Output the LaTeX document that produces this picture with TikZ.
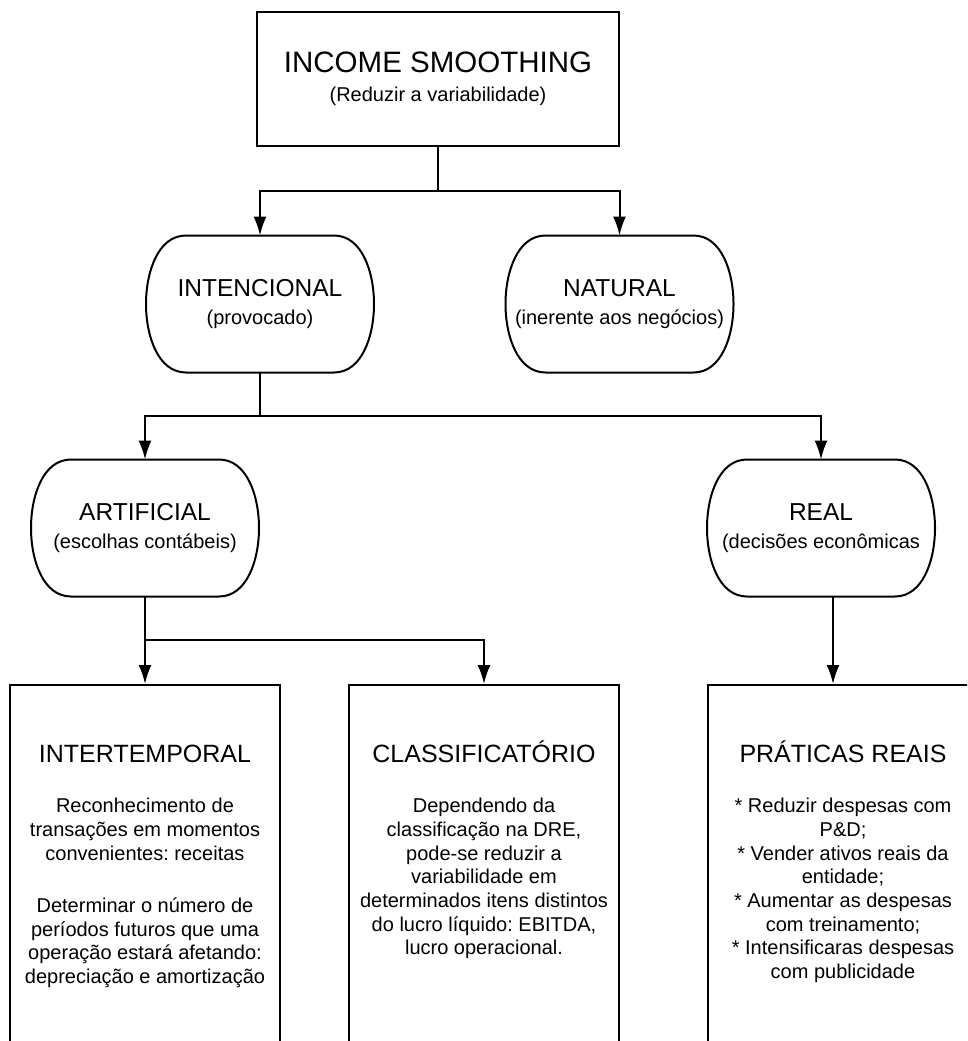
\documentclass[tikz,border=0pt]{standalone}
\usepackage{fontspec}
\setmainfont{Liberation Sans}
\usetikzlibrary{arrows.meta}
\frenchspacing

% frame with rounded bulging ends round a pill node
\newcommand{\pillframe}[1]{%
  \draw[line join=round] (#1.west) .. controls ([yshift=32pt]#1.west) and ([xshift=12pt]#1.north west) .. ([xshift=40pt]#1.north west)
    -- ([xshift=-40pt]#1.north east) .. controls ([xshift=-12pt]#1.north east) and ([yshift=32pt]#1.east) .. (#1.east)
    .. controls ([yshift=-32pt]#1.east) and ([xshift=-12pt]#1.south east) .. ([xshift=-40pt]#1.south east)
    -- ([xshift=40pt]#1.south west) .. controls ([xshift=12pt]#1.south west) and ([yshift=-32pt]#1.west) .. (#1.west) -- cycle;}
\newcommand{\ttl}[1]{{\fontsize{25}{30}\selectfont\rule{0pt}{25pt}#1}}

\begin{document}
\begin{tikzpicture}[x=1pt,y=-1pt,line width=2pt]
	\tikzset{box/.style={draw, minimum width=270pt, minimum height=420pt, inner sep=0pt},
		pill/.style={minimum width=226pt, minimum height=135pt, inner sep=0pt, align=center, font=\fontsize{20}{28}\selectfont},
		txt/.style={align=center, inner sep=0pt, anchor=north, font=\fontsize{20}{23.7}\selectfont},
		f/.style={-{Latex[length=19pt,width=13pt]}}};
	\useasboundingbox (0,0) rectangle (967,1041);
	\clip (0,0) rectangle (967,1041);

	\node[draw, minimum width=362pt, minimum height=134pt, inner sep=0pt, align=center, font=\fontsize{20}{29}\selectfont] (income) at (438,79)
		{{\fontsize{29.5}{34}\selectfont INCOME SMOOTHING}\\(Reduzir a variabilidade)};

	\node[pill] (intenc) at (260,304) {{\fontsize{24.5}{30}\selectfont INTENCIONAL}\\(provocado)};
	\node[pill] (natural) at (619.5,304) {{\fontsize{24.5}{30}\selectfont NATURAL}\\(inerente aos negócios)};
	\node[pill] (artif) at (145,528) {{\fontsize{24.5}{30}\selectfont ARTIFICIAL}\\(escolhas contábeis)};
	\node[pill] (real) at (821,528) {{\fontsize{24.5}{30}\selectfont REAL}\\(decisões econômicas};
	\pillframe{intenc}
	\pillframe{natural}
	\pillframe{artif}
	\pillframe{real}

	\node[box] (intert) at (145,895) {};
	\node[box] (classif) at (484,895) {};
	\node[box] (praticas) at (843,895) {};

	\node[txt] (intertT) at (145,736) {\ttl{INTERTEMPORAL}\\[27pt]
		Reconhecimento de\\transações em momentos\\convenientes: receitas\\[28.6pt]
		Determinar o número de\\períodos futuros que uma\\operação estará afetando:\\depreciação e amortização};
	\node[txt] (classifT) at (484,736) {\ttl{CLASSIFICATÓRIO}\\[27pt]
		Dependendo da\\classificação na DRE,\\pode-se reduzir a\\variabilidade em\\determinados itens distintos\\do lucro líquido: EBITDA,\\lucro operacional.};
	\node[txt] (praticasT) at (843,736) {\ttl{PRÁTICAS REAIS}\\[27pt]
		* Reduzir despesas com\\P\&D;\\* Vender ativos reais da\\entidade;\\* Aumentar as despesas\\com treinamento;\\* Intensificaras despesas\\com publicidade};

	\coordinate (j1) at (438,191);
	\coordinate (j2) at (260,416);
	\coordinate (j3) at (145,640);

	\draw (income.south) -- (j1);
	\draw[f] (j1) -| (intenc.north);
	\draw[f] (j1) -| (natural.north);
	\draw (intenc.south) -- (j2);
	\draw[f] (j2) -| (artif.north);
	\draw[f] (j2) -| (real.north);
	\draw (artif.south) -- (j3);
	\draw[f] (j3) -| (intert.north);
	\draw[f] (j3) -| (classif.north);
	\draw[f] ([xshift=12pt]real.south) -- ([xshift=-10pt]praticas.north);
\end{tikzpicture}
\end{document}
